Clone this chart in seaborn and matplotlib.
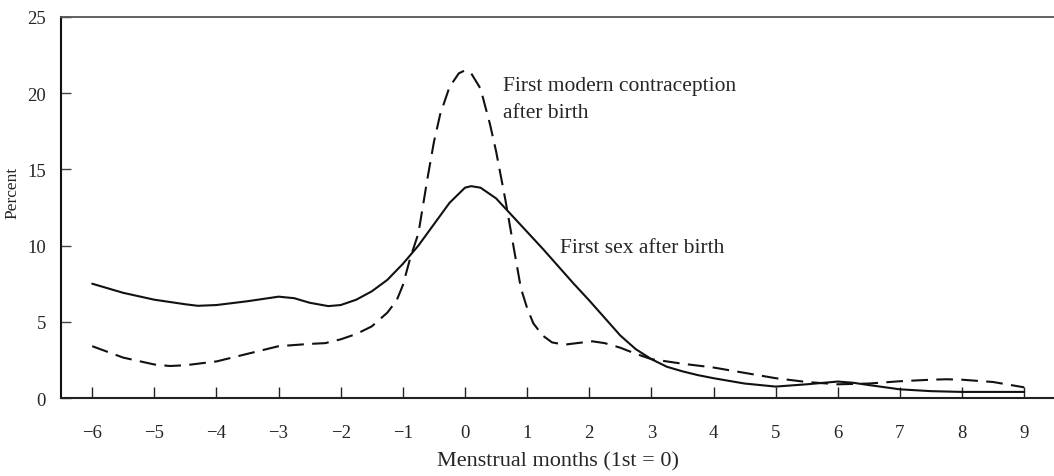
import matplotlib
matplotlib.use("Agg")
import matplotlib.pyplot as plt
import pandas as pd
import seaborn as sns

# values
sex_months = [-6, -5.5, -5, -4.5, -4.3, -4, -3.5, -3, -2.75, -2.5, -2.2, -2, -1.75, -1.5, -1.25,
              -1, -0.75, -0.5, -0.25, 0, 0.1, 0.25, 0.5, 0.75, 1, 1.25, 1.5, 1.75, 2, 2.25,
              2.5, 2.75, 3, 3.25, 3.5, 3.75, 4, 4.5, 5, 5.5, 6, 6.25, 6.5, 7, 7.5, 8, 9]
sex_pct = [7.5, 6.9, 6.45, 6.15, 6.05, 6.1, 6.35, 6.65, 6.55, 6.25, 6.03, 6.1, 6.45, 7.0, 7.75,
           8.8, 10.0, 11.4, 12.8, 13.8, 13.9, 13.8, 13.1, 12.0, 10.9, 9.8, 8.65, 7.5, 6.4, 5.25,
           4.1, 3.2, 2.55, 2.05, 1.75, 1.5, 1.3, 0.95, 0.75, 0.9, 1.08, 1.0, 0.85, 0.57, 0.45, 0.4, 0.4]

contra_months = [-6, -5.5, -5, -4.75, -4.5, -4, -3.5, -3, -2.5, -2.25, -2, -1.75, -1.5, -1.25,
                 -1.1, -1, -0.88, -0.75, -0.6, -0.5, -0.4, -0.25, -0.1, 0, 0.1, 0.25, 0.4, 0.5,
                 0.65, 0.8, 0.9, 1.0, 1.1, 1.25, 1.4, 1.6, 1.8, 2.05, 2.25, 2.5, 2.75, 3, 3.5,
                 4, 4.5, 5, 5.5, 6, 6.5, 7, 7.5, 7.75, 8, 8.5, 9]
contra_pct = [3.4, 2.65, 2.2, 2.1, 2.15, 2.4, 2.9, 3.4, 3.55, 3.6, 3.85, 4.2, 4.7, 5.6,
              6.4, 7.4, 9.2, 10.8, 14.5, 16.8, 18.6, 20.4, 21.3, 21.5, 21.3, 20.3, 18.0, 16.2,
              13.0, 9.5, 7.2, 5.9, 4.9, 4.1, 3.65, 3.5, 3.6, 3.72, 3.6, 3.3, 2.9, 2.55, 2.25,
              2.0, 1.65, 1.3, 1.05, 0.9, 0.95, 1.1, 1.2, 1.23, 1.2, 1.05, 0.7]

x_ticks = list(range(-6, 10))
y_ticks = [0, 5, 10, 15, 20, 25]

sex_df = pd.DataFrame({"month": sex_months, "pct": sex_pct})
contra_df = pd.DataFrame({"month": contra_months, "pct": contra_pct})

sns.set_style("ticks")
plt.rcParams["font.family"] = ["Liberation Serif", "DejaVu Serif"]

fig = plt.figure(figsize=(10.54, 4.77), dpi=100)
ax = fig.add_axes([0.058, 0.1635, 0.942, 0.7988])

sns.lineplot(data=sex_df, x="month", y="pct", color="#111111", linewidth=1.5, ax=ax)
sns.lineplot(data=contra_df, x="month", y="pct", color="#111111", linewidth=1.5,
             linestyle=(0, (8, 4)), ax=ax)

ax.set_xlim(-6.5, 9.48)
ax.set_ylim(0, 25)
ax.set_xticks(x_ticks)
ax.set_yticks(y_ticks)

ax.spines["right"].set_visible(False)
ax.spines["left"].set_linewidth(1.5)
ax.spines["left"].set_color("#111111")
ax.spines["bottom"].set_linewidth(1.5)
ax.spines["bottom"].set_color("#222222")
ax.spines["top"].set_linewidth(1.3)
ax.spines["top"].set_color("#555555")

ax.tick_params(axis="x", direction="in", length=8, width=1, color="#222222", pad=19, labelsize=13.5)
ax.tick_params(axis="y", direction="in", length=7, width=1, color="#444444", pad=11, labelsize=13.5)

ax.set_xlabel("Menstrual months (1st = 0)", fontsize=16, labelpad=7)
ax.set_ylabel("Percent", fontsize=12.5)
ax.yaxis.set_label_coords(-0.041, 0.54)

ax.text(0.61, 21.1, "First modern contraception\nafter birth", fontsize=15.5,
        va="top", ha="left", linespacing=1.55)
ax.text(1.53, 9.9, "First sex after birth", fontsize=15.5, va="center", ha="left")

fig.savefig("out.png", dpi=100)
